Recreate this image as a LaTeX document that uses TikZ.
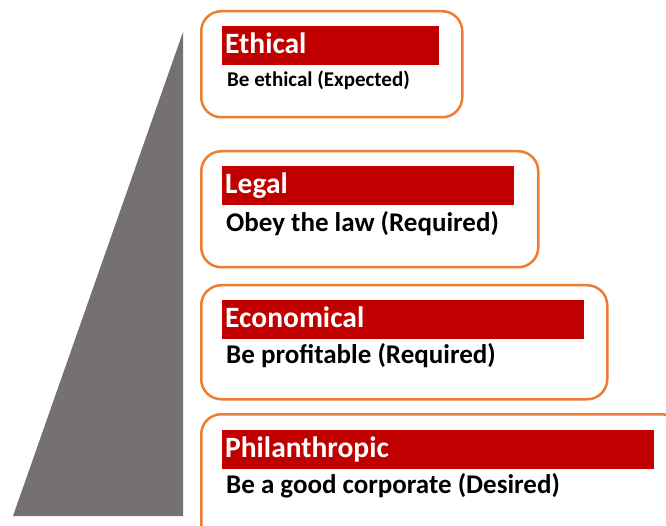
\documentclass[tikz,border=0pt]{standalone}
\usepackage{fontspec}
\setmainfont{Carlito}
\usepackage{xcolor}
\usetikzlibrary{positioning}
\definecolor{PyramidGrey}{HTML}{767171}
\definecolor{BarRed}{HTML}{C00000}
\definecolor{BoxOrange}{HTML}{ED7D31}

\begin{document}
\begin{tikzpicture}[x=1pt, y=-1pt,
		LayerBox/.style={draw=BoxOrange, line width=2.5pt, rounded corners=20pt, anchor=north west, inner sep=0pt, minimum width=#1},
		TitleBar/.style={fill=BarRed, text=white, font=\bfseries\fontsize{29.5}{31}\selectfont, anchor=north west, inner xsep=3pt, inner ysep=0pt, text height=27pt, text depth=12pt, text width=#1, align=left},
		Duty/.style={font=\bfseries\fontsize{#1}{#1}\selectfont, anchor=base west, inner sep=0pt}]
		\useasboundingbox (0,0) rectangle (666,526);
		\clip (0,0) rectangle (666,526);
		\fill[PyramidGrey] (183,32) -- (183,516) -- (13,516) -- cycle;
		\node[LayerBox=261pt, minimum height=106pt] (ethicalbox) at (200,10) {};
		\node[LayerBox=337pt, minimum height=116pt] (legalbox) at (200,150) {};
		\node[LayerBox=406pt, minimum height=114pt] (economicbox) at (200,284) {};
		\node[LayerBox=480pt, minimum height=130pt] (charitybox) at (200,413) {};
		\node[TitleBar=211pt] (ethical) at (222,26) {Ethical};
		\node[TitleBar=286pt] (legal) at (222,166) {Legal};
		\node[TitleBar=356pt] (economic) at (222,300) {Economical};
		\node[TitleBar=426pt] (charity) at (222,430) {Philanthropic};
		\node[Duty=21] (ethicaltxt) at ([xshift=5pt, yshift=-21pt]ethical.south west) {Be ethical (Expected)};
		\node[Duty=27] (legaltxt) at ([xshift=4pt, yshift=-26pt]legal.south west) {Obey the law (Required)};
		\node[Duty=27] (economictxt) at ([xshift=4pt, yshift=-24pt]economic.south west) {Be profitable (Required)};
		\node[Duty=27] (charitytxt) at ([xshift=4pt, yshift=-24pt]charity.south west) {Be a good corporate (Desired)};
	\end{tikzpicture}
\end{document}
